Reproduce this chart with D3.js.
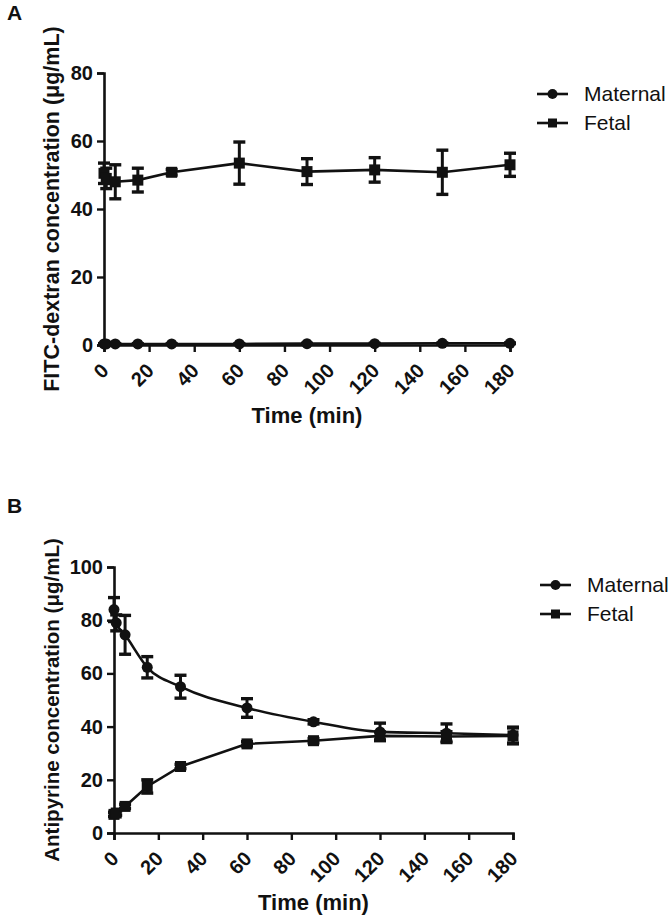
<!DOCTYPE html>
<html>
<head>
<meta charset="utf-8">
<script src="https://cdn.jsdelivr.net/npm/d3@7"></script>
<style>
  body { margin: 0; background: #fff; }
  text { font-family: "Liberation Sans", Arial, sans-serif; fill: #111; }
</style>
</head>
<body>
<div id="chart"></div>
<script>
// time points (min)
var times = [0, 1, 5, 15, 30, 60, 90, 120, 150, 180];
var xTicks = [0, 20, 40, 60, 80, 100, 120, 140, 160, 180];

// panel A - FITC-dextran
var maternalA = [0.3, 0.3, 0.3, 0.3, 0.3, 0.3, 0.4, 0.4, 0.5, 0.5];
var maternalAErr = [0.1, 0.1, 0.1, 0.1, 0.1, 0.1, 0.1, 0.1, 0.1, 0.1];
var fetalA = [50.5, 49, 48, 48.5, 50.8, 53.5, 51, 51.5, 50.8, 53];
var fetalAErr = [3, 3, 5, 3.5, 0.8, 6.2, 3.8, 3.6, 6.5, 3.4];
var yTicksA = [0, 20, 40, 60, 80];

// panel B - antipyrine
var maternalB = [84, 79, 74.5, 62.3, 55, 47, 41.8, 38, 37.5, 36.8];
var maternalBErr = [4.5, 3, 7.3, 4, 4.3, 3.5, 0.8, 3.3, 3.5, 3];
var fetalB = [7, 7.5, 10, 17.5, 25, 33.5, 34.7, 36.5, 36.3, 36.5];
var fetalBErr = [0.8, 0.8, 0.8, 2.5, 0.8, 0.8, 0.8, 1.5, 1.8, 3];
var yTicksB = [0, 20, 40, 60, 80, 100];

var seriesNames = ["Maternal", "Fetal"];

var svg = d3.select("#chart").append("svg")
  .attr("width", 669)
  .attr("height", 917);

function drawPanel(opt) {
  var x = d3.scaleLinear().domain([0, 180]).range([opt.left, opt.right]);
  var y = d3.scaleLinear().domain([0, opt.yMax]).range([opt.bottom, opt.top]);
  var g = svg.append("g");

  // panel letter
  g.append("text")
    .attr("x", 7).attr("y", opt.letterY)
    .style("font-size", "21px").style("font-weight", "bold")
    .text(opt.letter);

  // x axis
  var xAxis = g.append("g")
    .attr("transform", "translate(0," + opt.bottom + ")")
    .call(d3.axisBottom(x).tickValues(xTicks).tickSize(7).tickFormat(""));
  xAxis.select(".domain").attr("stroke", "#111").attr("stroke-width", 2.6);
  xAxis.selectAll(".tick line").attr("stroke", "#111").attr("stroke-width", 2.4);

  g.selectAll(".xlab")
    .data(xTicks)
    .enter().append("text")
    .attr("class", "xlab")
    .attr("transform", function(d) {
      return "translate(" + (x(d) + 1) + "," + (opt.bottom + 22) + ") rotate(-45)";
    })
    .attr("text-anchor", "end")
    .attr("dy", "0.35em")
    .style("font-size", "20px").style("font-weight", "bold")
    .text(function(d) { return d; });

  // y axis
  var yAxis = g.append("g")
    .attr("transform", "translate(" + opt.left + ",0)")
    .call(d3.axisLeft(y).tickValues(opt.yTicks).tickSize(7).tickPadding(4));
  yAxis.select(".domain").attr("stroke", "#111").attr("stroke-width", 2.6);
  yAxis.selectAll(".tick line").attr("stroke", "#111").attr("stroke-width", 2.4);
  yAxis.selectAll(".tick text")
    .style("font-size", "20px").style("font-weight", "bold")
    .style("font-family", "Liberation Sans, Arial, sans-serif").attr("fill", "#111");

  // axis titles
  g.append("text")
    .attr("x", (opt.left + opt.right) / 2).attr("y", opt.xTitleY)
    .attr("text-anchor", "middle")
    .style("font-size", "22px").style("font-weight", "bold")
    .text("Time (min)");

  g.append("text")
    .attr("transform", "translate(59," + (opt.top + opt.bottom) / 2 + ") rotate(-90)")
    .attr("text-anchor", "middle")
    .style("font-size", opt.yTitleSize).style("font-weight", "bold")
    .text(opt.yTitle);

  // series
  var series = [
    { name: seriesNames[0], vals: opt.maternal, errs: opt.maternalErr, shape: "circle", curve: opt.maternalCurve },
    { name: seriesNames[1], vals: opt.fetal, errs: opt.fetalErr, shape: "square", curve: d3.curveLinear }
  ];

  series.forEach(function(s) {
    var pts = times.map(function(t, i) { return { t: t, v: s.vals[i], e: s.errs[i] }; });

    var line = d3.line()
      .x(function(d) { return x(d.t); })
      .y(function(d) { return y(d.v); })
      .curve(s.curve);

    g.append("path")
      .datum(pts)
      .attr("d", line)
      .attr("fill", "none")
      .attr("stroke", "#111")
      .attr("stroke-width", 2.6);

    var eb = g.selectAll(null).data(pts).enter().append("g");
    eb.append("line")
      .attr("x1", function(d) { return x(d.t); })
      .attr("x2", function(d) { return x(d.t); })
      .attr("y1", function(d) { return y(d.v + d.e); })
      .attr("y2", function(d) { return y(d.v - d.e); })
      .attr("stroke", "#111").attr("stroke-width", 3);
    [1, -1].forEach(function(sign) {
      eb.append("line")
        .attr("x1", function(d) { return x(d.t) - 6; })
        .attr("x2", function(d) { return x(d.t) + 6; })
        .attr("y1", function(d) { return y(d.v + sign * d.e); })
        .attr("y2", function(d) { return y(d.v + sign * d.e); })
        .attr("stroke", "#111").attr("stroke-width", 3.4);
    });

    if (s.shape === "circle") {
      g.selectAll(null).data(pts).enter().append("circle")
        .attr("cx", function(d) { return x(d.t); })
        .attr("cy", function(d) { return y(d.v); })
        .attr("r", 5.5)
        .attr("fill", "#111");
    } else {
      g.selectAll(null).data(pts).enter().append("rect")
        .attr("x", function(d) { return x(d.t) - 5.5; })
        .attr("y", function(d) { return y(d.v) - 5.5; })
        .attr("width", 11).attr("height", 11)
        .attr("fill", "#111");
    }
  });

  // legend
  var leg = g.selectAll(".leg")
    .data(series)
    .enter().append("g")
    .attr("transform", function(d, i) {
      return "translate(" + opt.legendX + "," + (opt.legendY + i * 29) + ")";
    });
  leg.append("line")
    .attr("x1", 0).attr("x2", 31).attr("y1", 0).attr("y2", 0)
    .attr("stroke", "#111").attr("stroke-width", 2.6);
  leg.filter(function(d) { return d.shape === "circle"; }).append("circle")
    .attr("cx", 15.5).attr("cy", 0).attr("r", 5).attr("fill", "#111");
  leg.filter(function(d) { return d.shape === "square"; }).append("rect")
    .attr("x", 11).attr("y", -4.5).attr("width", 9).attr("height", 9).attr("fill", "#111");
  leg.append("text")
    .attr("x", 47).attr("y", 0).attr("dy", "0.35em")
    .style("font-size", "21px")
    .text(function(d) { return d.name; });
}

drawPanel({
  letter: "A", letterY: 20,
  left: 104, right: 510, top: 73, bottom: 345, yMax: 80, yTicks: yTicksA,
  xTitleY: 423, yTitle: "FITC-dextran concentration (\u03bcg/mL)", yTitleSize: "21.5px",
  maternal: maternalA, maternalErr: maternalAErr,
  fetal: fetalA, fetalErr: fetalAErr, maternalCurve: d3.curveLinear,
  legendX: 537, legendY: 94
});

drawPanel({
  letter: "B", letterY: 513,
  left: 114, right: 513, top: 567, bottom: 833, yMax: 100, yTicks: yTicksB,
  xTitleY: 910, yTitle: "Antipyrine concentration (\u03bcg/mL)", yTitleSize: "20.5px",
  maternal: maternalB, maternalErr: maternalBErr,
  fetal: fetalB, fetalErr: fetalBErr, maternalCurve: d3.curveMonotoneX,
  legendX: 540, legendY: 585
});
</script>
</body>
</html>
